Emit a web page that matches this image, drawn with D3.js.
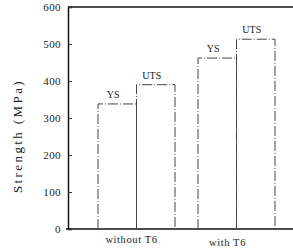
<!DOCTYPE html>
<html>
<head>
<meta charset="utf-8">
<script src="https://cdn.jsdelivr.net/npm/d3@7"></script>
<style>
body{margin:0;background:#fff;}
text{font-family:"Liberation Serif","DejaVu Serif",serif;fill:#222;}
</style>
</head>
<body>
<svg id="canvas" width="293" height="252"></svg>
<script>
let groups=["without T6","with T6"];
let series=["YS","UTS"];
let ysValues=[338,462];
let utsValues=[390,513];
let yTicks=[0,100,200,300,400,500,600];

let svg=d3.select("#canvas");
let plotLeft=68,plotTop=7,plotBottom=229,plotRight=293;

let y=d3.scaleLinear().domain([0,600]).range([plotBottom,plotTop]);
let x=d3.scaleBand().domain(groups).range([98,275]).paddingInner(0.23).paddingOuter(0);
let xs=d3.scaleBand().domain(series).range([0,x.bandwidth()]);

// frame
svg.append("line").attr("x1",plotLeft).attr("x2",plotRight).attr("y1",plotTop).attr("y2",plotTop)
    .attr("stroke","#111").attr("stroke-width",1.5);
svg.append("line").attr("x1",plotLeft-2).attr("x2",plotRight).attr("y1",plotBottom).attr("y2",plotBottom)
    .attr("stroke","#111").attr("stroke-width",1.5);

let yAxis=svg.append("g").attr("transform","translate("+plotLeft+",0)")
    .call(d3.axisRight(y).tickValues(yTicks).tickSize(4).tickFormat(""));
yAxis.select(".domain").attr("stroke","#111").attr("stroke-width",1.5);
yAxis.selectAll(".tick line").attr("stroke","#333");

svg.selectAll(".ylab").data(yTicks).enter().append("text")
    .attr("x",plotLeft-7).attr("y",d=>y(d)+4)
    .attr("text-anchor","end").attr("font-size",11)
    .attr("letter-spacing",0.4)
    .text(d=>d);

svg.append("text")
    .attr("transform","translate(22,136) rotate(-90)")
    .attr("text-anchor","middle").attr("font-size",13)
    .attr("letter-spacing",2.4)
    .text("Strength (MPa)");

let rows=[];
groups.forEach((g,i)=>{
    rows.push({g:g,s:"YS",v:ysValues[i]});
    rows.push({g:g,s:"UTS",v:utsValues[i]});
});

svg.selectAll(".bar").data(rows).enter().append("path")
    .attr("fill","none").attr("stroke","#444").attr("stroke-width",1)
    .attr("stroke-dasharray","10,2,1,2")
    .attr("d",d=>{
        let x0=x(d.g)+xs(d.s),x1=x0+xs.bandwidth();
        return "M"+x0+","+plotBottom+"V"+y(d.v)+"H"+x1+"V"+plotBottom;
    });

svg.selectAll(".blab").data(rows).enter().append("text")
    .attr("x",d=>x(d.g)+xs(d.s)+xs.bandwidth()/2-4)
    .attr("y",d=>y(d.v)-6)
    .attr("text-anchor","middle").attr("font-size",10)
    .text(d=>d.s);

svg.selectAll(".xlab").data(groups).enter().append("text")
    .attr("x",(d,i)=>x(d)+x.bandwidth()/2-(i==0?5:9))
    .attr("y",(d,i)=>i==0?243:246)
    .attr("text-anchor","middle").attr("font-size",10.5)
    .attr("letter-spacing",0.6)
    .text(d=>d);
</script>
</body>
</html>
